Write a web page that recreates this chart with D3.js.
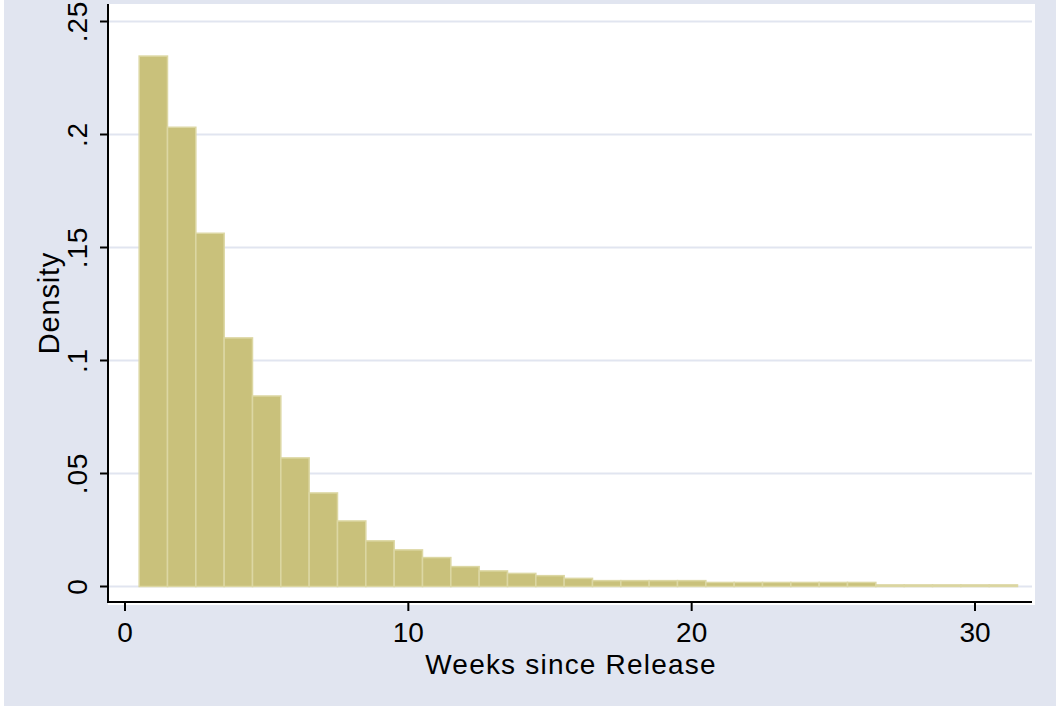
<!DOCTYPE html>
<html>
<head>
<meta charset="utf-8">
<script src="https://cdn.jsdelivr.net/npm/d3@7"></script>
<style>
  body { margin: 0; background: #fff; }
  svg { display: block; font-family: "Liberation Sans", Arial, sans-serif; }
</style>
</head>
<body>
<svg id="chart" width="1056" height="706"></svg>
<script>
// histogram bins: left edge of each one-week bin
var binStarts = [0.5, 1.5, 2.5, 3.5, 4.5, 5.5, 6.5, 7.5, 8.5, 9.5,
                 10.5, 11.5, 12.5, 13.5, 14.5, 15.5, 16.5, 17.5, 18.5, 19.5,
                 20.5, 21.5, 22.5, 23.5, 24.5, 25.5, 26.5, 27.5, 28.5, 29.5, 30.5]
var density = [0.2347, 0.2032, 0.1563, 0.110, 0.0843, 0.0569, 0.0414, 0.029, 0.0202, 0.0162,
               0.0128, 0.0088, 0.0069, 0.0058, 0.0048, 0.0036, 0.0026, 0.0026, 0.0026, 0.0026,
               0.0018, 0.0018, 0.0018, 0.0018, 0.0018, 0.0018, 0.0007, 0.0007, 0.0007, 0.0007, 0.0007]
var binWidth = 1

var xTicks = [0, 10, 20, 30]
var xTickLabels = ["0", "10", "20", "30"]
var yTicks = [0, 0.05, 0.1, 0.15, 0.2, 0.25]
var yTickLabels = ["0", ".05", ".1", ".15", ".2", ".25"]

var svg = d3.select("#chart")

var x = d3.scaleLinear().domain([0, 30]).range([125, 975])
var y = d3.scaleLinear().domain([0, 0.25]).range([586.5, 21.5])

// outer graph region + white plot region
svg.append("rect").attr("x", 4).attr("y", 0).attr("width", 1052).attr("height", 706).attr("fill", "#e1e5f0")
svg.append("rect").attr("x", 108).attr("y", 4).attr("width", 927).attr("height", 601).attr("fill", "#fff")

// gridlines
svg.append("g")
    .selectAll("line")
    .data(yTicks)
    .enter()
        .append("line")
        .attr("x1", 108).attr("x2", 1032)
        .attr("y1", d => y(d)).attr("y2", d => y(d))
        .attr("stroke", "#e1e5f0")
        .attr("stroke-width", 2)

// bars
var bars = binStarts.map((b, i) => ({ x0: b, x1: b + binWidth, v: density[i] }))
svg.append("g")
    .selectAll("rect")
    .data(bars)
    .enter()
        .append("rect")
        .attr("x", d => x(d.x0))
        .attr("width", d => x(d.x1) - x(d.x0))
        .attr("y", d => y(d.v))
        .attr("height", d => y(0) - y(d.v))
        .attr("fill", "#c9c17b")
        .attr("stroke", "#dcd7a3")
        .attr("stroke-width", 1.5)

// axis lines
svg.append("line").attr("x1", 108).attr("x2", 108).attr("y1", 4).attr("y2", 603)
    .attr("stroke", "#000").attr("stroke-width", 2)
svg.append("line").attr("x1", 107).attr("x2", 1032).attr("y1", 602).attr("y2", 602)
    .attr("stroke", "#000").attr("stroke-width", 2)

// y ticks + rotated labels
var yAxis = svg.append("g")
yAxis.selectAll("line")
    .data(yTicks)
    .enter()
        .append("line")
        .attr("x1", 100).attr("x2", 108)
        .attr("y1", d => y(d)).attr("y2", d => y(d))
        .attr("stroke", "#000").attr("stroke-width", 2)
yAxis.selectAll("text")
    .data(yTicks)
    .enter()
        .append("text")
        .attr("transform", d => "translate(87," + y(d) + ") rotate(-90)")
        .attr("text-anchor", "middle")
        .attr("font-size", 28)
        .attr("letter-spacing", 0.8)
        .text((d, i) => yTickLabels[i])

// x ticks + labels
var xAxis = svg.append("g")
xAxis.selectAll("line")
    .data(xTicks)
    .enter()
        .append("line")
        .attr("x1", d => x(d)).attr("x2", d => x(d))
        .attr("y1", 602).attr("y2", 611)
        .attr("stroke", "#000").attr("stroke-width", 2)
xAxis.selectAll("text")
    .data(xTicks)
    .enter()
        .append("text")
        .attr("x", d => x(d))
        .attr("y", 642)
        .attr("text-anchor", "middle")
        .attr("font-size", 28)
        .text((d, i) => xTickLabels[i])

// axis titles
svg.append("text")
    .attr("x", 571).attr("y", 674)
    .attr("text-anchor", "middle")
    .attr("font-size", 28)
    .attr("letter-spacing", 1.2)
    .text("Weeks since Release")
svg.append("text")
    .attr("transform", "translate(59,303) rotate(-90)")
    .attr("text-anchor", "middle")
    .attr("font-size", 29)
    .attr("letter-spacing", 0.8)
    .text("Density")
</script>
</body>
</html>
